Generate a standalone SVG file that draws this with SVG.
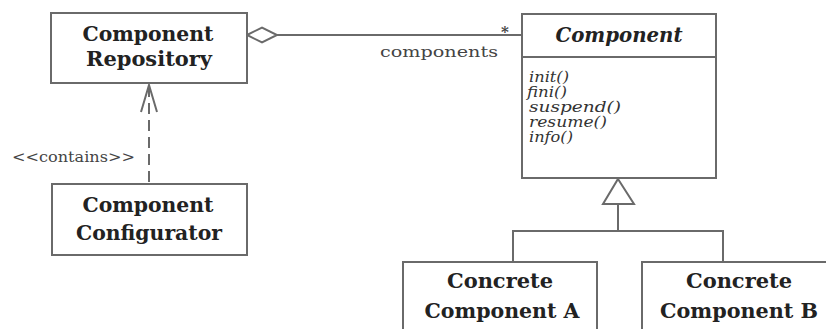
<svg xmlns="http://www.w3.org/2000/svg" width="826" height="329" viewBox="0 0 826 329">
<defs>
<style>
.box{fill:#fff;stroke:#6a6a6a;stroke-width:2}
.ln{fill:none;stroke:#6a6a6a;stroke-width:2}
.b{font-family:"DejaVu Serif","Liberation Serif",serif;font-weight:bold;font-size:20px;fill:#222;text-anchor:middle}
.bi{font-family:"DejaVu Serif","Liberation Serif",serif;font-weight:bold;font-style:italic;font-size:20px;fill:#222;text-anchor:middle}
.m{font-family:"DejaVu Serif","Liberation Serif",serif;font-style:italic;font-size:14px;fill:#333}
.r{font-family:"DejaVu Serif","Liberation Serif",serif;font-size:15px;fill:#444}
</style>
</defs>
<rect width="826" height="329" fill="#fff"/>
<g id="connectors">
<path class="ln" d="M247 35 L262 27.5 L277 35 L262 42.5 Z"/>
<line class="ln" x1="277" y1="35" x2="522" y2="35"/>
<text class="r" x="505" y="37" text-anchor="middle" font-weight="bold" font-size="20" fill="#333">*</text>
<text class="r" x="380" y="57" textLength="118" lengthAdjust="spacingAndGlyphs">components</text>
<line class="ln" x1="149" y1="86" x2="149" y2="184" stroke-dasharray="11 6"/>
<path class="ln" d="M141 112 L149 85 L157 112"/>
<text class="r" x="12" y="162" textLength="123" lengthAdjust="spacingAndGlyphs">&lt;&lt;contains&gt;&gt;</text>
<path class="ln" d="M618 179 L634 204 L603 204 Z"/>
<path class="ln" d="M618 204 L618 231 M513 262 L513 231 L723 231 L723 262"/>
</g>
<g id="repository">
<rect class="box" x="51" y="13" width="196" height="70"/>
<text class="b" x="148" y="41" textLength="131" lengthAdjust="spacingAndGlyphs">Component</text>
<text class="b" x="149" y="66" textLength="126" lengthAdjust="spacingAndGlyphs">Repository</text>
</g>
<g id="configurator">
<rect class="box" x="52" y="184" width="195" height="71"/>
<text class="b" x="148" y="212" textLength="131" lengthAdjust="spacingAndGlyphs">Component</text>
<text class="b" x="149" y="240" textLength="146" lengthAdjust="spacingAndGlyphs">Configurator</text>
</g>
<g id="component">
<rect class="box" x="522" y="14" width="194" height="164"/>
<line class="ln" x1="522" y1="57" x2="716" y2="57"/>
<text class="bi" x="619" y="42" textLength="127" lengthAdjust="spacingAndGlyphs">Component</text>
<text class="m" x="529" y="82" textLength="40" lengthAdjust="spacingAndGlyphs">init()</text>
<text class="m" x="527" y="97" textLength="40" lengthAdjust="spacingAndGlyphs">fini()</text>
<text class="m" x="529" y="112" textLength="92" lengthAdjust="spacingAndGlyphs">suspend()</text>
<text class="m" x="529" y="127" textLength="78" lengthAdjust="spacingAndGlyphs">resume()</text>
<text class="m" x="529" y="142" textLength="44" lengthAdjust="spacingAndGlyphs">info()</text>
</g>
<g id="concreteA">
<rect class="box" x="403" y="262" width="194" height="80"/>
<text class="b" x="500" y="288" textLength="106" lengthAdjust="spacingAndGlyphs">Concrete</text>
<text class="b" x="502" y="318" textLength="155" lengthAdjust="spacingAndGlyphs">Component A</text>
</g>
<g id="concreteB">
<rect class="box" x="642" y="262" width="194" height="80"/>
<text class="b" x="739" y="288" textLength="106" lengthAdjust="spacingAndGlyphs">Concrete</text>
<text class="b" x="739" y="318" textLength="158" lengthAdjust="spacingAndGlyphs">Component B</text>
</g>
</svg>
